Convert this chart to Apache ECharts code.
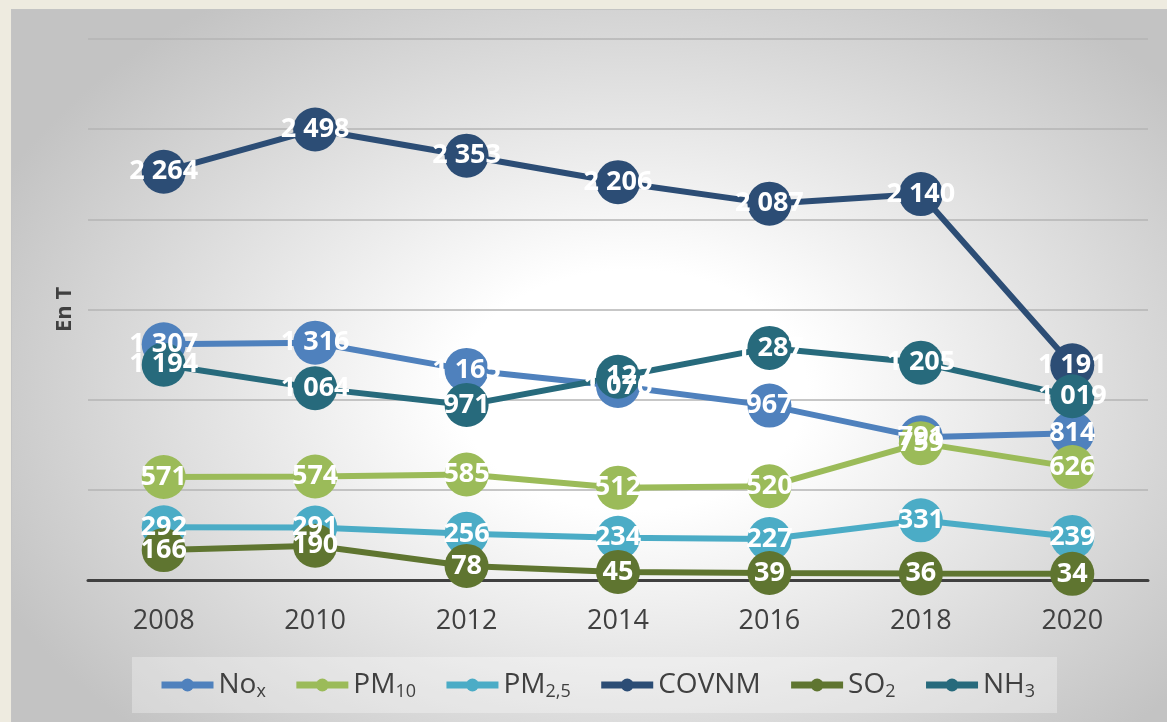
<!DOCTYPE html>
<html>
<head>
<meta charset="utf-8">
<script src="https://cdn.jsdelivr.net/npm/echarts@6/dist/echarts.min.js"></script>
<style>
    html, body { margin: 0; padding: 0; background: #eeebe0; }
    #wrap { position: absolute; left: 11px; top: 9px; width: 1156px; height: 713px;
            border-top: 1px solid #c4c4c4; border-left: 1px solid #c4c4c4;
            background: radial-gradient(ellipse 700px 480px at 620px 380px, #ffffff 25%, #c3c3c3 100%); }
    #main { position: absolute; left: -12px; top: -10px; width: 1167px; height: 722px; }
</style>
</head>
<body>
<div id="wrap"><div id="main"></div></div>
<script>
    // données (en tonnes)
    var years = ['2008', '2010', '2012', '2014', '2016', '2018', '2020']
    var nameBase = ['No', 'PM', 'PM', 'COVNM', 'SO', 'NH']
    var nameSub = ['x', '10', '2,5', '', '2', '3']
    var colors = ['#4f81bd', '#9bbb59', '#4bacc6', '#2c4d75', '#5f7530', '#276a7c']

    var nox = [1307, 1316, 1165, 1076, 967, 791, 814]
    var pm10 = [571, 574, 585, 512, 520, 759, 626]
    var pm25 = [292, 291, 256, 234, 227, 331, 239]
    var covnm = [2264, 2498, 2353, 2206, 2087, 2140, 1191]
    var so2 = [166, 190, 78, 45, 39, 36, 34]
    var nh3 = [1194, 1064, 971, 1127, 1287, 1205, 1019]

    var yTicks = [0, 500, 1000, 1500, 2000, 2500, 3000]

    var allData = [nox, pm10, pm25, covnm, so2, nh3]
    var names = nameBase.map(function (b, i) { return b + nameSub[i] })

    // séparateur de milliers : espace
    function fmt(p) {
        return String(p.value).replace(/\B(?=(\d{3})+(?!\d))/g, ' ')
    }

    var series = allData.map(function (d, i) {
        return {
            name: names[i],
            type: 'line',
            data: d,
            symbol: 'circle',
            symbolSize: 44,
            lineStyle: { width: 6, color: colors[i] },
            itemStyle: { color: colors[i] },
            label: {
                show: true,
                position: 'inside',
                formatter: fmt,
                color: '#fff',
                fontFamily: 'Open Sans',
                fontWeight: 'bold',
                fontSize: 27
            },
            emphasis: { disabled: true }
        }
    })

    var option = {
        animation: false,
        grid: { left: 88, right: 19, top: 39, bottom: 142 },
        xAxis: {
            type: 'category',
            data: years,
            boundaryGap: true,
            axisTick: { show: false },
            axisLine: { lineStyle: { color: '#404040', width: 3 } },
            axisLabel: {
                margin: 28,
                fontSize: 27,
                color: '#404040',
                fontFamily: 'Open Sans'
            }
        },
        yAxis: {
            type: 'value',
            min: yTicks[0],
            max: yTicks[yTicks.length - 1],
            interval: 500,
            name: 'En T',
            nameLocation: 'middle',
            nameGap: 12,
            nameRotate: 90,
            nameTextStyle: { fontSize: 22, fontWeight: 'bold', color: '#404040', fontFamily: 'Open Sans' },
            axisLabel: { show: false },
            axisLine: { show: false },
            axisTick: { show: false },
            splitLine: { lineStyle: { color: '#b4b4b4', width: 1.5 } }
        },
        legend: {
            bottom: 9,
            left: 132,
            padding: [12, 22, 12, 26],
            backgroundColor: 'rgba(255,255,255,0.3)',
            itemWidth: 52,
            itemHeight: 16,
            itemGap: 27,
            lineStyle: { width: 7 },
            formatter: function (n) {
                var i = names.indexOf(n)
                return '{b|' + nameBase[i] + '}' + (nameSub[i] ? '{s|' + nameSub[i] + '}' : '')
            },
            textStyle: {
                color: '#404040',
                fontFamily: 'Open Sans',
                rich: {
                    b: { fontSize: 28, color: '#404040', fontFamily: 'Open Sans', lineHeight: 31 },
                    s: { fontSize: 18, color: '#404040', fontFamily: 'Open Sans', padding: [14, 0, 0, 0], lineHeight: 31 }
                }
            },
            data: names
        },
        series: series
    }

    var chart = echarts.init(document.getElementById('main'))
    chart.setOption(option)
</script>
</body>
</html>
